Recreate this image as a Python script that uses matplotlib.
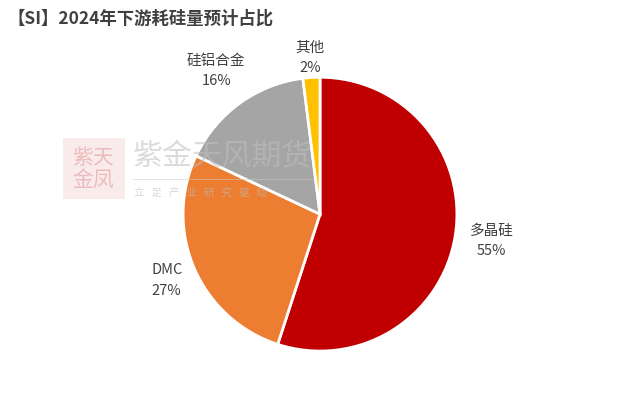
import matplotlib.pyplot as plt
import numpy as np

plt.rcParams['font.family'] = ['Noto Sans CJK SC', 'DejaVu Sans']

labels = ['多晶硅', 'DMC', '硅铝合金', '其他']
shares = [55, 27, 16, 2]
colors = ['#C00000', '#ED7D31', '#A5A5A5', '#FFC000']
label_dist = [1.27, 1.22, 1.29, 1.14]

fig = plt.figure(figsize=(6.4, 3.94), dpi=100)
ax = fig.add_axes([0.286, 0.109, 0.428, 0.695])

wedges, _ = ax.pie(shares, colors=colors, startangle=90, counterclock=False,
                   wedgeprops=dict(edgecolor='white', linewidth=2))
ax.set_xlim(-1, 1)
ax.set_ylim(-1, 1)
ax.set_aspect('equal')
ax.axis('off')

for w, name, pct, d in zip(wedges, labels, shares, label_dist):
    ang = np.deg2rad((w.theta1 + w.theta2) / 2)
    ax.text(d * np.cos(ang), d * np.sin(ang), f'{name}\n{pct}%',
            ha='center', va='center', fontsize=10.5, color='#404040',
            linespacing=1.55, clip_on=False)

fig.text(0.012, 0.953, '【SI】2024年下游耗硅量预计占比', fontsize=12.5,
         fontweight='bold', color='#404040', va='center')

# watermark
fig.patches.append(plt.Rectangle((0.098, 0.495), 0.097, 0.155, transform=fig.transFigure,
                                 facecolor='#f8dede', edgecolor='none', alpha=0.6))
fig.text(0.146, 0.572, '紫天\n金凤', fontsize=15, color='#e8b0b0', alpha=0.8,
         ha='center', va='center', linespacing=1.0)
fig.text(0.208, 0.603, '紫金天风期货', fontsize=21.5, color='#bfbfbf', alpha=0.55,
         va='center')
fig.lines.append(plt.Line2D([0.208, 0.49], [0.545, 0.545], transform=fig.transFigure,
                            color='#cccccc', lw=0.6, alpha=0.6))
fig.text(0.21, 0.51, '立   足   产   业   研   究   驱   动', fontsize=7.5, color='#bfbfbf',
         alpha=0.6, va='center')

fig.savefig('out.png', dpi=100)
